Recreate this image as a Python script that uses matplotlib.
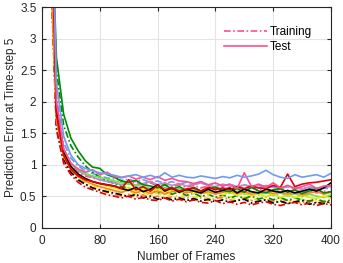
import matplotlib
matplotlib.use("Agg")
import matplotlib.pyplot as plt
from matplotlib.lines import Line2D

frames = list(range(10, 401, 10))

blue_train = [6.0, 2.1, 1.35, 1.1, 0.98, 0.9, 0.86, 0.82, 0.79, 0.77, 0.75, 0.77, 0.73, 0.76, 0.72, 0.74, 0.70, 0.73, 0.69, 0.72, 0.68, 0.71, 0.67, 0.70, 0.66, 0.69, 0.65, 0.68, 0.64, 0.67, 0.63, 0.66, 0.62, 0.65, 0.61, 0.64, 0.62, 0.60, 0.63, 0.61]
pink_train = [5.0, 1.8, 1.2, 0.98, 0.88, 0.82, 0.79, 0.76, 0.74, 0.72, 0.74, 0.70, 0.72, 0.68, 0.71, 0.66, 0.69, 0.65, 0.68, 0.64, 0.67, 0.63, 0.66, 0.62, 0.65, 0.61, 0.64, 0.60, 0.63, 0.59, 0.62, 0.58, 0.61, 0.57, 0.60, 0.56, 0.59, 0.55, 0.58, 0.56]
yellow_train = [4.7, 1.65, 1.12, 0.92, 0.8, 0.72, 0.67, 0.63, 0.60, 0.57, 0.55, 0.58, 0.52, 0.56, 0.51, 0.55, 0.49, 0.53, 0.48, 0.52, 0.47, 0.51, 0.46, 0.50, 0.45, 0.49, 0.44, 0.48, 0.43, 0.47, 0.45, 0.42, 0.46, 0.43, 0.41, 0.45, 0.42, 0.44, 0.40, 0.43]
orange_train = [4.6, 1.6, 1.08, 0.88, 0.76, 0.68, 0.63, 0.59, 0.56, 0.53, 0.50, 0.53, 0.48, 0.52, 0.47, 0.50, 0.46, 0.49, 0.45, 0.48, 0.44, 0.47, 0.43, 0.46, 0.48, 0.44, 0.42, 0.46, 0.43, 0.41, 0.45, 0.42, 0.40, 0.44, 0.41, 0.39, 0.43, 0.40, 0.42, 0.39]
green_train = [5.5, 2.5, 1.62, 1.3, 1.12, 0.98, 0.88, 0.80, 0.74, 0.70, 0.65, 0.63, 0.60, 0.58, 0.61, 0.55, 0.58, 0.53, 0.57, 0.51, 0.55, 0.49, 0.53, 0.48, 0.52, 0.47, 0.51, 0.46, 0.50, 0.45, 0.49, 0.44, 0.48, 0.43, 0.47, 0.44, 0.42, 0.46, 0.41, 0.44]
black_train = [5.0, 1.6, 1.08, 0.88, 0.76, 0.69, 0.63, 0.60, 0.57, 0.55, 0.52, 0.49, 0.53, 0.47, 0.50, 0.45, 0.48, 0.44, 0.47, 0.43, 0.46, 0.42, 0.45, 0.41, 0.44, 0.40, 0.43, 0.45, 0.39, 0.42, 0.44, 0.39, 0.42, 0.38, 0.41, 0.43, 0.37, 0.40, 0.38, 0.42]
red_train = [4.8, 1.55, 1.02, 0.84, 0.72, 0.64, 0.60, 0.56, 0.52, 0.50, 0.47, 0.50, 0.45, 0.48, 0.44, 0.43, 0.47, 0.42, 0.45, 0.41, 0.44, 0.40, 0.39, 0.43, 0.38, 0.41, 0.37, 0.40, 0.36, 0.39, 0.41, 0.37, 0.35, 0.38, 0.40, 0.36, 0.39, 0.35, 0.38, 0.36]

purple_test = [5.3, 1.9, 1.25, 1.02, 0.9, 0.84, 0.80, 0.76, 0.73, 0.71, 0.68, 0.71, 0.67, 0.70, 0.73, 0.68, 0.71, 0.67, 0.70, 0.66, 0.69, 0.71, 0.67, 0.65, 0.69, 0.66, 0.64, 0.68, 0.65, 0.63, 0.67, 0.64, 0.62, 0.66, 0.63, 0.61, 0.65, 0.62, 0.64, 0.65]
lightgreen_test = [5.2, 1.9, 1.25, 1.02, 0.92, 0.86, 0.82, 0.80, 0.77, 0.74, 0.71, 0.69, 0.67, 0.65, 0.62, 0.60, 0.64, 0.58, 0.62, 0.57, 0.61, 0.56, 0.60, 0.55, 0.59, 0.54, 0.58, 0.53, 0.57, 0.52, 0.56, 0.51, 0.55, 0.50, 0.54, 0.49, 0.53, 0.50, 0.48, 0.52]
yellow_test = [4.9, 1.75, 1.18, 0.96, 0.85, 0.78, 0.73, 0.69, 0.66, 0.63, 0.60, 0.64, 0.58, 0.62, 0.57, 0.61, 0.56, 0.60, 0.55, 0.59, 0.54, 0.58, 0.53, 0.57, 0.52, 0.56, 0.51, 0.55, 0.50, 0.54, 0.49, 0.53, 0.48, 0.52, 0.47, 0.51, 0.48, 0.46, 0.50, 0.47]
orange_test = [4.8, 1.7, 1.12, 0.92, 0.81, 0.74, 0.69, 0.65, 0.62, 0.59, 0.56, 0.60, 0.55, 0.59, 0.54, 0.58, 0.53, 0.57, 0.59, 0.55, 0.58, 0.54, 0.57, 0.53, 0.56, 0.59, 0.54, 0.57, 0.53, 0.56, 0.58, 0.54, 0.57, 0.53, 0.56, 0.52, 0.55, 0.57, 0.53, 0.56]
green_test = [6.0, 2.7, 1.8, 1.42, 1.22, 1.06, 0.96, 0.94, 0.84, 0.80, 0.74, 0.72, 0.75, 0.68, 0.66, 0.63, 0.68, 0.61, 0.65, 0.59, 0.64, 0.58, 0.62, 0.64, 0.59, 0.57, 0.62, 0.56, 0.64, 0.58, 0.55, 0.60, 0.62, 0.56, 0.60, 0.54, 0.58, 0.62, 0.55, 0.57]
black_test = [7.2, 1.85, 1.2, 0.97, 0.85, 0.78, 0.73, 0.70, 0.68, 0.66, 0.62, 0.59, 0.64, 0.57, 0.61, 0.68, 0.58, 0.63, 0.56, 0.61, 0.58, 0.55, 0.61, 0.56, 0.59, 0.63, 0.55, 0.61, 0.57, 0.55, 0.61, 0.58, 0.56, 0.59, 0.55, 0.58, 0.61, 0.58, 0.63, 0.71]
red_test = [6.5, 1.8, 1.15, 0.93, 0.82, 0.76, 0.73, 0.70, 0.68, 0.66, 0.62, 0.76, 0.60, 0.65, 0.58, 0.67, 0.60, 0.63, 0.58, 0.61, 0.63, 0.58, 0.64, 0.60, 0.63, 0.60, 0.65, 0.62, 0.66, 0.63, 0.62, 0.67, 0.64, 0.85, 0.65, 0.69, 0.71, 0.72, 0.74, 0.76]
pink_test = [7.5, 2.0, 1.25, 1.02, 0.93, 0.88, 0.92, 0.84, 0.88, 0.81, 0.79, 0.82, 0.77, 0.80, 0.76, 0.81, 0.75, 0.78, 0.74, 0.73, 0.70, 0.73, 0.68, 0.71, 0.66, 0.69, 0.62, 0.87, 0.65, 0.69, 0.64, 0.71, 0.63, 0.67, 0.62, 0.65, 0.69, 0.62, 0.66, 0.67]
blue_test = [7.0, 2.3, 1.45, 1.15, 1.0, 0.94, 0.90, 0.87, 0.85, 0.83, 0.80, 0.82, 0.84, 0.80, 0.83, 0.79, 0.87, 0.80, 0.83, 0.80, 0.79, 0.82, 0.80, 0.78, 0.81, 0.79, 0.83, 0.80, 0.82, 0.85, 0.91, 0.84, 0.80, 0.78, 0.84, 0.80, 0.82, 0.84, 0.80, 0.86]

colors = {
    "blue": "#6f9cf0", "pink": "#ff4d94", "yellow": "#e6e600", "orange": "#ff8030",
    "green": "#008a00", "black": "#000000", "red": "#e00000",
    "purple": "#b48cc8", "lightgreen": "#66e64d",
}

train_series = [("blue", blue_train), ("pink", pink_train), ("yellow", yellow_train),
                ("orange", orange_train), ("green", green_train), ("black", black_train),
                ("red", red_train)]
test_series = [("purple", purple_test), ("lightgreen", lightgreen_test), ("yellow", yellow_test),
               ("orange", orange_test), ("green", green_test), ("black", black_test),
               ("red", red_test), ("pink", pink_test), ("blue", blue_test)]

plt.rcParams['font.family'] = ['Liberation Sans', 'DejaVu Sans']
fig = plt.figure(figsize=(3.43, 2.63), dpi=100)
ax = fig.add_axes([0.1224, 0.1346, 0.8426, 0.8384])

for name, vals in train_series:
    ax.plot(frames, vals, color=colors[name], lw=1.2, ls='-.', dashes=(4, 1.5, 1, 1.5))
for name, vals in test_series:
    ax.plot(frames, vals, color=colors[name], lw=1.2, ls='-')

ax.set_xlim(0, 400)
ax.set_ylim(0, 3.5)
ax.set_xticks([0, 80, 160, 240, 320, 400])
ax.set_yticks([0, 0.5, 1, 1.5, 2, 2.5, 3, 3.5])
ax.set_yticklabels(["0", "0.5", "1", "1.5", "2", "2.5", "3", "3.5"])
ax.grid(True, color="#e3e3e3", lw=0.8)
ax.set_axisbelow(True)
ax.tick_params(direction='in', top=True, right=True, labelsize=8.5, length=3,
               colors="#262626")
ax.tick_params(axis='x', pad=5)
ax.tick_params(axis='y', pad=4)
for s in ax.spines.values():
    s.set_color("#262626")
    s.set_linewidth(0.8)
ax.set_xlabel("Number of Frames", fontsize=8.5, color="#262626", labelpad=3)
ax.set_ylabel("Prediction Error at Time-step 5", fontsize=8.5, color="#262626", labelpad=2)

handles = [Line2D([], [], color=colors["pink"], lw=1.2, ls='-.', dashes=(4, 1.5, 1, 1.5)),
           Line2D([], [], color=colors["pink"], lw=1.2, ls='-')]
ax.legend(handles, ["Training", "Test"], loc='upper left', bbox_to_anchor=(0.614, 0.935),
          frameon=False, fontsize=8.5, handlelength=3.6, handletextpad=0.3,
          labelspacing=0.25, borderaxespad=0)

fig.savefig("out.png", dpi=100)
